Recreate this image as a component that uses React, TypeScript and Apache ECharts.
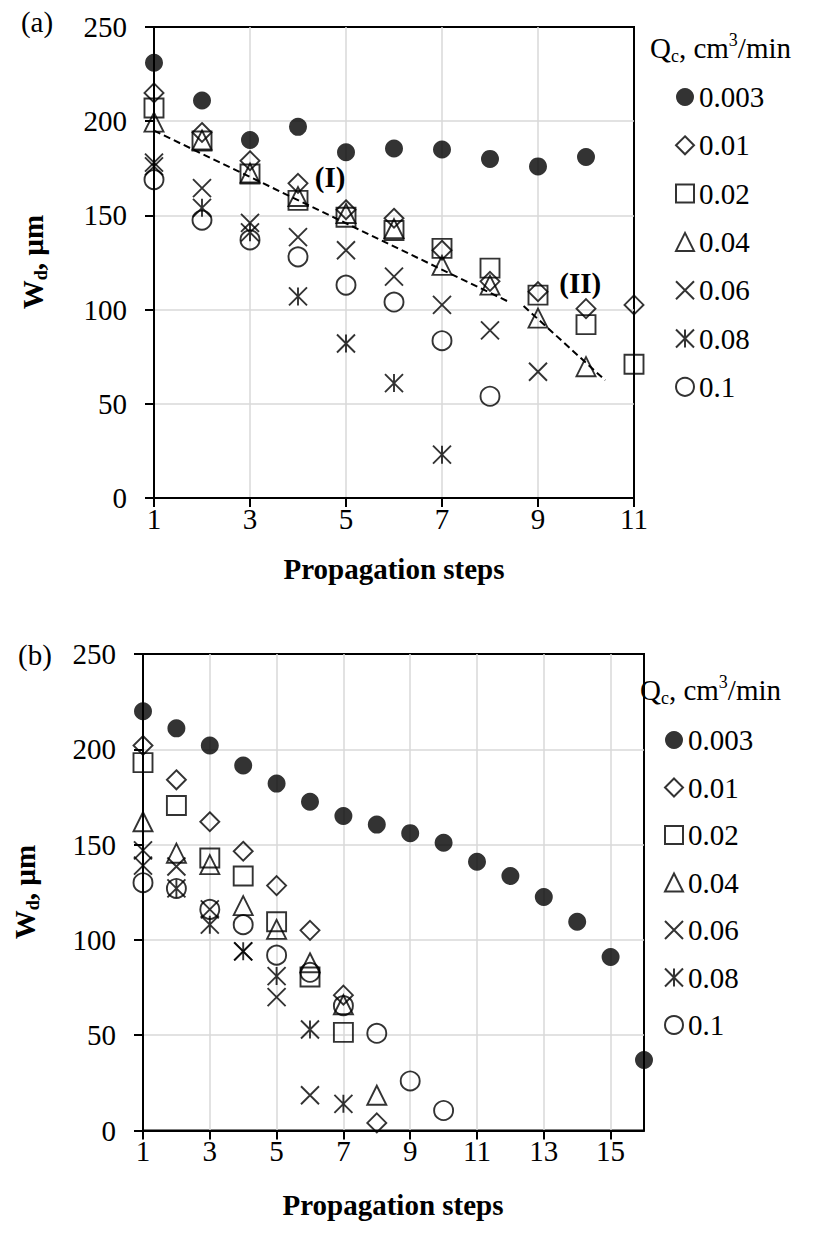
import React, { useEffect, useRef } from "react";
import * as echarts from "echarts";

const FONT = "Liberation Serif";

// Legend / series names
const NAMES = ["0.003", "0.01", "0.02", "0.04", "0.06", "0.08", "0.1"];

// Panel (a): W_d values at propagation steps 1, 2, 3, ...
const A_003 = [231, 211, 190, 197, 183.5, 185.5, 185, 180, 176, 181];
const A_01 = [215, 194, 179, 167, 153, 148.5, 131.5, 115, 109.5, 100.5, 102.5];
const A_02 = [207, 189.5, 172, 158, 149, 142, 132.5, 122, 107.7, 92, 71];
const A_04 = [199.5, 190, 172.5, 160, 151, 143, 123.5, 113, 95.5, 69.7];
const A_06 = [178, 164.5, 146, 138.5, 131.5, 117.5, 102.5, 89, 67];
const A_08 = [176, 154, 141, 107, 82, 61, 23];
const A_1 = [169, 147.5, 137, 128, 113, 104, 83.5, 54];

// Panel (a): dashed trend lines (step, W_d)
const TREND_I = [[1, 195], [8.4, 104]];
const TREND_II = [[8.7, 101.9], [10.4, 62.5]];
const NOTE_I = [4.67, 170.5];
const NOTE_II = [9.88, 114];

// Panel (b)
const B_003 = [220, 211, 202, 191.5, 182, 172.5, 165, 160.5, 156, 151, 141, 133.5, 122.5, 109.5, 91, 37];
const B_01 = [202, 184, 162, 146.5, 128.5, 105, 71, 4];
const B_02 = [193, 170.5, 143, 133.5, 109.5, 80.5, 51.5];
const B_04 = [162, 145.5, 139.5, 118, 105.5, 88, 66, 18.5];
const B_06 = [139, 138.5, 116, 94, 70, 18.5];
const B_08 = [147, 127, 108, 94, 81, 53, 14];
const B_1 = [130, 127, 116, 108, 92, 83, 65.5, 51, 26, 10.5];

const A_SERIES = [A_003, A_01, A_02, A_04, A_06, A_08, A_1];
const B_SERIES = [B_003, B_01, B_02, B_04, B_06, B_08, B_1];

const SYMBOLS = [
  "circle",
  "diamond",
  "rect",
  "triangle",
  "path://M0,0L10,10M10,0L0,10",
  "path://M0,0L10,10M10,0L0,10M5,0L5,10",
  "circle",
];
const SIZES = [18, 19, 19, 19, 18, 18, 19];

function styleFor(i: number) {
  if (i === 0) return { color: "#000" };
  return { color: "rgba(0,0,0,0)", borderColor: "#000", borderWidth: 1.9 };
}

function toData(vals: number[]) {
  return vals.map((v, i) => [i + 1, v]);
}

function makeAxes(gridIndex: number, xmax: number) {
  const label = { color: "#000", fontFamily: FONT, fontSize: 29 };
  const split = {
    show: true,
    showMinLine: false,
    showMaxLine: false,
    lineStyle: { color: "#d9d9d9", width: 1.5 },
  };
  const line = { show: true, lineStyle: { color: "#000", width: 2 } };
  const tick = { show: true, length: 9, lineStyle: { color: "#000", width: 2 } };
  return {
    x: {
      type: "value",
      gridIndex,
      min: 1,
      max: xmax,
      interval: 2,
      axisLine: line,
      axisTick: tick,
      axisLabel: { ...label, margin: 6, showMaxLabel: xmax % 2 === 1 },
      splitLine: split,
    },
    y: {
      type: "value",
      gridIndex,
      min: 0,
      max: 250,
      interval: 50,
      axisLine: line,
      axisTick: tick,
      axisLabel: { ...label, margin: 27 },
      splitLine: split,
    },
  };
}

function richTitle(x: number, y: number) {
  return {
    type: "text",
    x,
    y,
    style: {
      text: "{a|Q}{b|c}{a|, cm}{c|3}{a|/min}",
      fill: "#000",
      verticalAlign: "middle",
      align: "left",
      rich: {
        a: { fontFamily: FONT, fontSize: 29, lineHeight: 34, fill: "#000" },
        b: { fontFamily: FONT, fontSize: 18, lineHeight: 17, verticalAlign: "bottom", fill: "#000" },
        c: { fontFamily: FONT, fontSize: 18, lineHeight: 17, verticalAlign: "top", fill: "#000" },
      },
    },
  };
}

function yTitle(x: number, y: number) {
  return {
    type: "text",
    x,
    y,
    rotation: Math.PI / 2,
    style: {
      text: "{a|W}{b|d}{a|, µm}",
      fill: "#000",
      align: "center",
      verticalAlign: "middle",
      rich: {
        a: { fontFamily: FONT, fontSize: 29, fontWeight: "bold", lineHeight: 34, fill: "#000" },
        b: { fontFamily: FONT, fontSize: 18, fontWeight: "bold", lineHeight: 18, verticalAlign: "bottom", fill: "#000" },
      },
    },
  };
}

function plainText(x: number, y: number, text: string, bold: boolean) {
  return {
    type: "text",
    x,
    y,
    style: {
      text,
      fill: "#000",
      fontFamily: FONT,
      fontSize: 29,
      fontWeight: bold ? "bold" : "normal",
      align: "center",
      verticalAlign: "middle",
    },
  };
}

export default function App() {
  const ref = useRef<HTMLDivElement>(null);
  useEffect(() => {
    if (!ref.current) return;
    const chart = echarts.init(ref.current, null, { renderer: "svg" });
    const axA = makeAxes(0, 11);
    const axB = makeAxes(1, 16);

    const series: any[] = [];
    A_SERIES.forEach((vals, i) => {
      series.push({
        type: "scatter",
        name: NAMES[i],
        xAxisIndex: 0,
        yAxisIndex: 0,
        symbol: SYMBOLS[i],
        symbolSize: SIZES[i],
        itemStyle: styleFor(i),
        data: toData(vals),
        silent: true,
        z: 3,
      });
    });
    B_SERIES.forEach((vals, i) => {
      series.push({
        type: "scatter",
        name: NAMES[i],
        xAxisIndex: 1,
        yAxisIndex: 1,
        symbol: SYMBOLS[i],
        symbolSize: SIZES[i],
        itemStyle: styleFor(i),
        data: toData(vals),
        silent: true,
        z: 3,
      });
    });
    [TREND_I, TREND_II].forEach((d, k) => {
      series.push({
        type: "line",
        name: "trend" + k,
        xAxisIndex: 0,
        yAxisIndex: 0,
        data: d,
        symbol: "none",
        silent: true,
        lineStyle: { color: "#000", width: 2, type: [7, 4] },
        z: 4,
      });
    });
    [
      [NOTE_I, "(I)"],
      [NOTE_II, "(II)"],
    ].forEach(([pt, txt]: any, k) => {
      series.push({
        type: "scatter",
        name: "note" + k,
        xAxisIndex: 0,
        yAxisIndex: 0,
        data: [pt],
        symbolSize: 1,
        itemStyle: { color: "rgba(0,0,0,0)" },
        silent: true,
        label: {
          show: true,
          position: "inside",
          formatter: txt,
          color: "#000",
          opacity: 1,
          fontFamily: FONT,
          fontSize: 29,
          fontWeight: "bold",
        },
        z: 5,
      });
    });

    const legendCommon = {
      orient: "vertical",
      data: NAMES,
      itemWidth: 18,
      itemHeight: 18,
      padding: 0,
      selectedMode: false,
      textStyle: { color: "#000", fontFamily: FONT, fontSize: 29, lineHeight: 30 },
    };

    chart.setOption({
      animation: false,
      textStyle: { fontFamily: FONT },
      grid: [
        { left: 154, top: 27, width: 480, height: 471, show: true, borderColor: "#000", borderWidth: 2 },
        { left: 143, top: 654, width: 501, height: 476.5, show: true, borderColor: "#000", borderWidth: 2 },
      ],
      xAxis: [axA.x, axB.x],
      yAxis: [axA.y, axB.y],
      legend: [
        { ...legendCommon, left: 675, top: 82, itemGap: 18.3 },
        { ...legendCommon, left: 664, top: 725, itemGap: 17.5 },
      ],
      graphic: [
        plainText(37, 22, "(a)", false),
        plainText(35, 655, "(b)", false),
        richTitle(650, 48),
        richTitle(640, 690),
        yTitle(33, 262),
        yTitle(25, 892),
        plainText(394, 569, "Propagation steps", true),
        plainText(393, 1205, "Propagation steps", true),
      ],
      series,
    });
    return () => chart.dispose();
  }, []);
  return (
    <div
      ref={ref}
      style={{ position: "absolute", left: 0, top: 0, width: 816, height: 1240, background: "#fff" }}
    />
  );
}
